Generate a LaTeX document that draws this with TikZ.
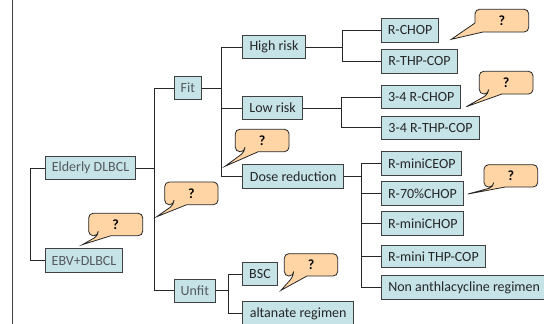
\documentclass[tikz,border=0pt]{standalone}
\usepackage{fontspec}
\setmainfont{Carlito}
\definecolor{boxfill}{HTML}{C6E3E8}
\definecolor{calfill}{HTML}{FFD5A6}
\definecolor{lightline}{HTML}{404040}
\definecolor{softtext}{HTML}{555A5E}
\tikzset{
  x=1pt,y=-1pt,
  box/.style={draw=lightline,fill=boxfill,line width=1pt,inner sep=0pt,text=black!85,font=\fontsize{14}{16}\selectfont,anchor=north west,align=center},
  softbox/.style={box,text=softtext},
  link/.style={draw=black!85,line width=1pt},
  balloon/.style={draw=black!85,fill=calfill,line width=.8pt},
  qmark/.style={inner sep=0pt,font=\fontsize{14}{16}\selectfont\bfseries,text=black},
}
% #1 name, #2 x0, #3 y0, #4 x1, #5 y1, #6 tip x, #7 tip y, #8 base x1, #9 base x2
\newcommand{\balloonshape}[9]{%
  \path[balloon] (#8,#5) -- (#6,#7) -- (#9,#5) [rounded corners=4.5pt] -- (#4,#5) -- (#4,#3) -- (#2,#3) -- (#2,#5) -- (#8,#5) -- cycle;
  \node[qmark] (#1) at ({(#2+#4)/2},{(#3+#5)/2}) {?};
}
\newcommand{\bx}[7][box]{%
  \node[#1,minimum width={#5-#3},minimum height={#6-#4}] (#2) at (#3,#4) {#7};
}
\begin{document}
\begin{tikzpicture}
\useasboundingbox (0,0) rectangle (544,324);
\fill[white] (0,0) rectangle (544,324);
\coordinate (lt) at (12.7,0);
\coordinate (lb) at (12.7,324);
\draw[draw=lightline,line width=1pt] (lt) -- (lb);

\bx[softbox]{elderly}{44.7}{155.7}{135.3}{179.3}{Elderly DLBCL}
\bx[softbox]{ebv}{44.7}{248.3}{122.3}{272}{EBV+DLBCL}
\bx[softbox]{fit}{174}{75.7}{200.7}{99.3}{Fit}
\bx[softbox]{unfit}{174}{278.7}{214.7}{302}{Unfit}
\bx{high}{242.3}{34.7}{304.7}{58.3}{High risk}
\bx{low}{242.3}{95.7}{302}{119.3}{Low risk}
\bx{dose}{242.3}{164.3}{343}{188}{Dose reduction}
\bx{bsc}{242.3}{262}{276.7}{285.3}{BSC}
\bx{alt}{242.3}{301.3}{353}{325}{altanate regimen}
\bx{rchop}{381.3}{18.3}{438}{41.7}{R-CHOP}
\bx{rthp}{381.3}{49}{456.7}{72.7}{R-THP-COP}
\bx{tchop}{381.3}{84.7}{460}{108.3}{3-4 R-CHOP}
\bx{tthp}{381.3}{115.7}{478.7}{138.7}{3-4 R-THP-COP}
\bx{ceop}{381.3}{151.3}{461.3}{174.7}{R-miniCEOP}
\bx{seventy}{381.3}{181.3}{462.7}{204.7}{R-70\%CHOP}
\bx{minichop}{381.3}{211}{463.3}{234.7}{R-miniCHOP}
\bx{minithp}{381.3}{244.7}{484.7}{267.3}{R-mini THP-COP}
\bx{non}{381.3}{275.3}{546}{298.7}{Non anthlacycline regimen}

\coordinate (jroot) at (30.3,0);
\coordinate (jmain) at (154,0);
\coordinate (jfit) at (221,0);
\coordinate (jhigh) at (342,0);
\coordinate (jlow) at (341,0);
\coordinate (jdose) at (361.7,0);
\coordinate (junfit) at (228.3,0);

\draw[link] (elderly.west) -- (elderly.west -| jroot) |- (ebv.west);
\draw[link] (elderly.east) -- (elderly.east -| jmain);
\draw[link] (fit.west) -- (fit.west -| jmain) |- (unfit.west);
\draw[link] (fit.east) -- (fit.east -| jfit);
\draw[link] (high.west) -- (high.west -| jfit) |- (dose.west);
\draw[link] (low.west) -- (low.west -| jfit);
\draw[link] (high.east) -- (high.east -| jhigh);
\draw[link] (rchop.west) -- (rchop.west -| jhigh) |- (rthp.west);
\draw[link] (low.east) -- (low.east -| jlow);
\draw[link] (tchop.west) -- (tchop.west -| jlow) |- (tthp.west);
\draw[link] (dose.east) -- (dose.east -| jdose);
\draw[link] (ceop.west) -- (ceop.west -| jdose) |- (non.west);
\draw[link] (seventy.west) -- (seventy.west -| jdose);
\draw[link] (minichop.west) -- (minichop.west -| jdose);
\draw[link] (minithp.west) -- (minithp.west -| jdose);
\draw[link] (unfit.east) -- (unfit.east -| junfit);
\draw[link] (bsc.west) -- (bsc.west -| junfit) |- (alt.west);

\path[balloon] (475,23) -- (451.3,39.3) -- (483,32) [rounded corners=4.5pt] -- (528.7,32) -- (528.7,9.3) -- (475,9.3) -- (475,23);
\node[qmark] (qa) at (501.8,21) {?};
\balloonshape{qb}{479.3}{71.3}{533}{94}{466.3}{106.7}{488.7}{502}
\balloonshape{qc}{484}{164.7}{537.7}{187}{468}{194}{493.7}{505.3}
\balloonshape{qd}{284.3}{253.7}{337.7}{276}{281}{290.3}{293.7}{307}
\balloonshape{qe}{235.3}{129.3}{289}{151.7}{225}{166.3}{245}{258.3}
\balloonshape{qf}{164.7}{182}{218}{204.7}{156.7}{216.7}{174}{186.7}
\balloonshape{qg}{88.7}{213.3}{142.7}{235.7}{82.3}{244.7}{98.3}{111}
\end{tikzpicture}
\end{document}
